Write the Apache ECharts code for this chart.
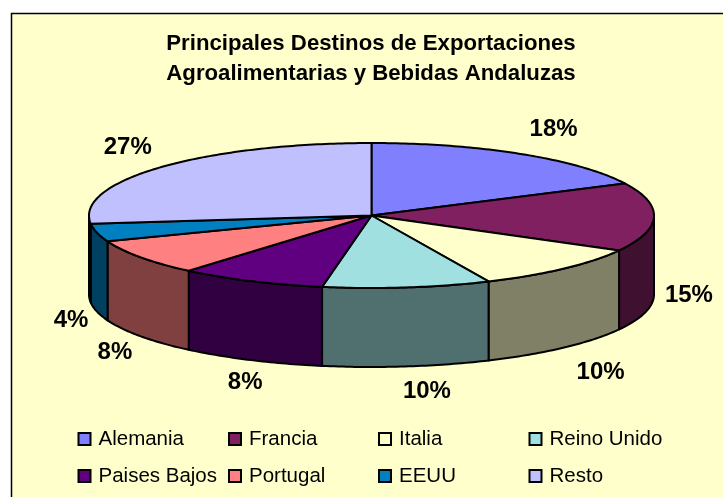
<!DOCTYPE html>
<html><head><meta charset="utf-8">
<style>html,body{margin:0;padding:0;background:#fff}#c{width:723px;height:497px}</style>
<script src="https://cdn.jsdelivr.net/npm/echarts@6/dist/echarts.min.js"></script>
</head><body><div id="c"></div>
<script>
const categories = ['Alemania','Francia','Italia','Reino Unido','Paises Bajos','Portugal','EEUU','Resto'];
const values = [17.7,15.3,10.2,9.6,8.4,8.0,4.0,26.8];
const topColors = ['#8080FF','#802060','#FFFFCC','#A0E0E0','#600080','#FF8080','#0080C0','#C0C0FF'];
const sideColors = ['#404080','#401030','#808066','#507070','#300040','#804040','#004060','#606080'];
const titleLines = ['Principales Destinos de Exportaciones','Agroalimentarias y Bebidas Andaluzas'];

// layout of the tilted pie
const cx = 371.5, cy = 215.5, rx = 282.5, ry = 72.5, depth = 79;
const labelNudge = [[33,-24.5],[35,-1],[37,25],[20,25],[-6,22],[-26,16.5],[-26,8.5],[-33,-19.5]];
const legendLeft = [77.5,228,378,528.5], legendTop = [428.5,465.5];

const total = values.reduce((a,b)=>a+b,0);
const toAngle = v => v/total*Math.PI*2;
const rim = (a,d=0) => [cx+rx*Math.sin(a), cy-ry*Math.cos(a)+d];
function arc(a0,a1,d=0){
  const n = Math.max(2,Math.ceil((a1-a0)/0.015)), p=[];
  for(let i=0;i<=n;i++) p.push(rim(a0+(a1-a0)*i/n,d));
  return p;
}
const LW = 2;
function renderSlice(idx){
  return function(params, api){
    let s=0; for(let i=0;i<idx;i++) s+=values[i];
    const a0=toAngle(s), a1=toAngle(s+api.value(0)), mid=(a0+a1)/2;
    const children=[];
    const v0=Math.max(a0,Math.PI/2), v1=Math.min(a1,Math.PI*1.5);
    if(v1>v0){
      const top=arc(v0,v1), bot=arc(v0,v1,depth).reverse();
      children.push({type:'polygon',shape:{points:top.concat(bot)},
        style:{fill:sideColors[idx],stroke:'#000',lineWidth:LW,lineJoin:'round'}});
    }
    children.push({type:'polygon',shape:{points:[[cx,cy]].concat(arc(a0,a1))},
      style:{fill:topColors[idx],stroke:'#000',lineWidth:LW,lineJoin:'round'}});
    const anchor=rim(mid,Math.cos(mid)<0?depth:0);
    children.push({type:'text',z2:10,style:{
      x:anchor[0]+labelNudge[idx][0],y:anchor[1]+labelNudge[idx][1],
      text:Math.round(api.value(0)/total*100)+'%',align:'center',verticalAlign:'middle',
      fill:'#000',font:'bold 24px "Liberation Sans", Arial, sans-serif'}});
    return {type:'group',children};
  };
}
const chart = echarts.init(document.getElementById('c'),null,{renderer:'canvas'});
chart.setOption({
  animation:false,
  backgroundColor:'#fff',
  title:{text:titleLines.join('\n'),left:366,top:23.5,textAlign:'center',
    textStyle:{fontFamily:'"Liberation Sans", Arial, sans-serif',fontWeight:'bold',fontSize:22.2,lineHeight:30.5,color:'#000'}},
  graphic:[{type:'rect',z:-10,silent:true,shape:{x:11.5,y:13.5,width:730,height:500},
    style:{fill:'#FFFFCC',stroke:'#000',lineWidth:1.5}}],
  legend:categories.map((name,i)=>({
    data:[name],left:legendLeft[i%4],top:legendTop[i<4?0:1],icon:'rect',itemWidth:12,itemHeight:12,itemGap:0,padding:0,
    selectedMode:false,
    itemStyle:{borderColor:'#000',borderWidth:2},
    textStyle:{fontFamily:'"Liberation Sans", Arial, sans-serif',fontSize:20.5,color:'#000',padding:[0,0,0,3]}
  })),
  series:categories.map((name,i)=>({
    type:'custom',name,coordinateSystem:'none',silent:true,
    itemStyle:{color:topColors[i]},
    renderItem:renderSlice(i),
    data:[[values[i]]]
  }))
});
</script></body></html>
